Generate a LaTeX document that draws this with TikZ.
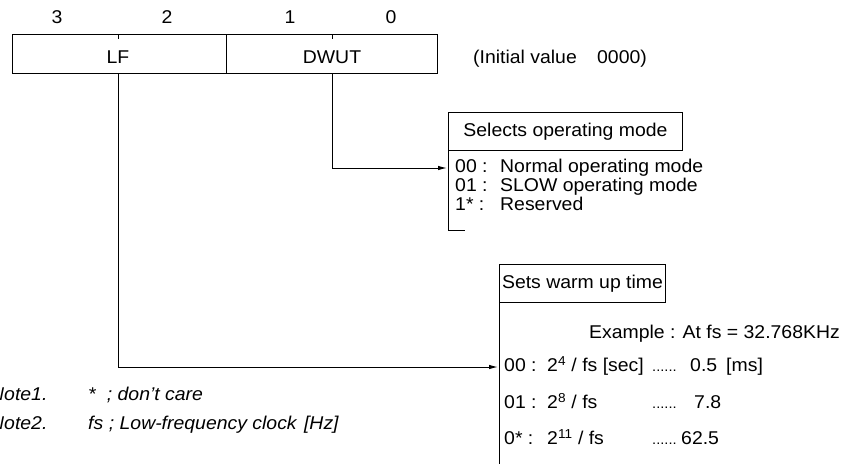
\documentclass[tikz,border=0pt]{standalone}
\usepackage{fontspec}
\setmainfont[FakeStretch=1.05]{Liberation Sans}
\usetikzlibrary{arrows.meta,positioning}
\tikzset{
  line/.style={draw=black, line width=1pt},
  conn/.style={line, -{Latex[length=9pt,width=4.5pt]}},
  lab/.style={font=\fontsize{18.5}{20}\selectfont, inner sep=0pt, text height=13pt, text depth=4pt},
  row/.style={lab, anchor=west},
  dots/.style={anchor=west, inner sep=0pt, font=\fontsize{14}{15}\selectfont, text height=13pt, text depth=4pt},
  note/.style={lab, anchor=west, font=\fontsize{18.5}{20}\selectfont\itshape},
  titlebox/.style={line, lab, anchor=north west, minimum height=38pt},
}

\begin{document}
\begin{tikzpicture}[x=1pt,y=-1pt]
  \useasboundingbox (0,0) rectangle (848,463);
  % register
  \draw[line] (12,34) rectangle (437,73);
  \draw[line] (226,34) -- (226,73);
  \draw[line] (118,34) -- (118,39);
  \draw[line] (332,34) -- (332,39);
  \node[lab] (b3) at (57,19) {3};
  \node[lab] (b2) at (167,19) {2};
  \node[lab] (b1) at (290,19) {1};
  \node[lab] (b0) at (391,19) {0};
  \node[lab] (lf) at (118,59) {LF};
  \node[lab] (dwut) at (332,59) {DWUT};
  \node[row] (init) at (473,59) {(Initial value\hspace{1.1em}0000)};
  \coordinate (lfbot) at (118,73);
  \coordinate (dwbot) at (332,73);

  % operating mode
  \node[titlebox, minimum width=234pt] (mode) at (448,112) {Selects operating mode};
  \draw[line] (mode.south west) -- (448,230) -- (465,230);
  \coordinate (modein) at (447,168);
  \node[row] (m0) at (455,168) {00 :};
  \node[row] (m1) at (455,187) {01 :};
  \node[row] (m2) at (455,206) {1* :};
  \node[row] (m0t) at (500,168) {Normal operating mode};
  \node[row] (m1t) at (500,187) {SLOW operating mode};
  \node[row] (m2t) at (500,206) {Reserved};
  \draw[conn] (dwbot) |- (modein);

  % warm up time
  \node[titlebox, minimum width=166pt] (warm) at (499,264) {Sets warm up time};
  \draw[line] (warm.south west) -- (499,470);
  \coordinate (warmin) at (498,367);
  \node[lab, anchor=east] (ex) at (840,334) {Example : At fs = 32.768KHz};
  \node[row] (w0) at (504,367) {00 :};
  \node[row] (w1) at (504,404) {01 :};
  \node[row] (w2) at (504,440) {0* :};
  \node[row] (w0f) at (547,367) {2\textsuperscript{4} / fs [sec]};
  \node[row] (w1f) at (547,404) {2\textsuperscript{8} / fs};
  \node[row] (w2f) at (547,440) {2\textsuperscript{11} / fs};
  \node[dots] (w0d) at (652,367) {......};
  \node[dots] (w1d) at (652,404) {......};
  \node[dots] (w2d) at (652,440) {......};
  \node[row] (w0v) at (690,367) {0.5};
  \node[row] (w1v) at (694,404) {7.8};
  \node[row] (w2v) at (681,440) {62.5};
  \node[row] (w0u) at (726,367) {[ms]};
  \draw[conn] (lfbot) |- (warmin);

  % notes
  \node[note] (n1) at (-10,396) {Note1.};
  \node[note] (n2) at (-10,425) {Note2.};
  \node[note] (n1t) at (88,396) {*\hspace{0.6em}; don't care};
  \node[note] (n2t) at (88,425) {fs\hspace{0.3em}; Low-frequency clock\hspace{0.4em}[Hz]};
\end{tikzpicture}
\end{document}
